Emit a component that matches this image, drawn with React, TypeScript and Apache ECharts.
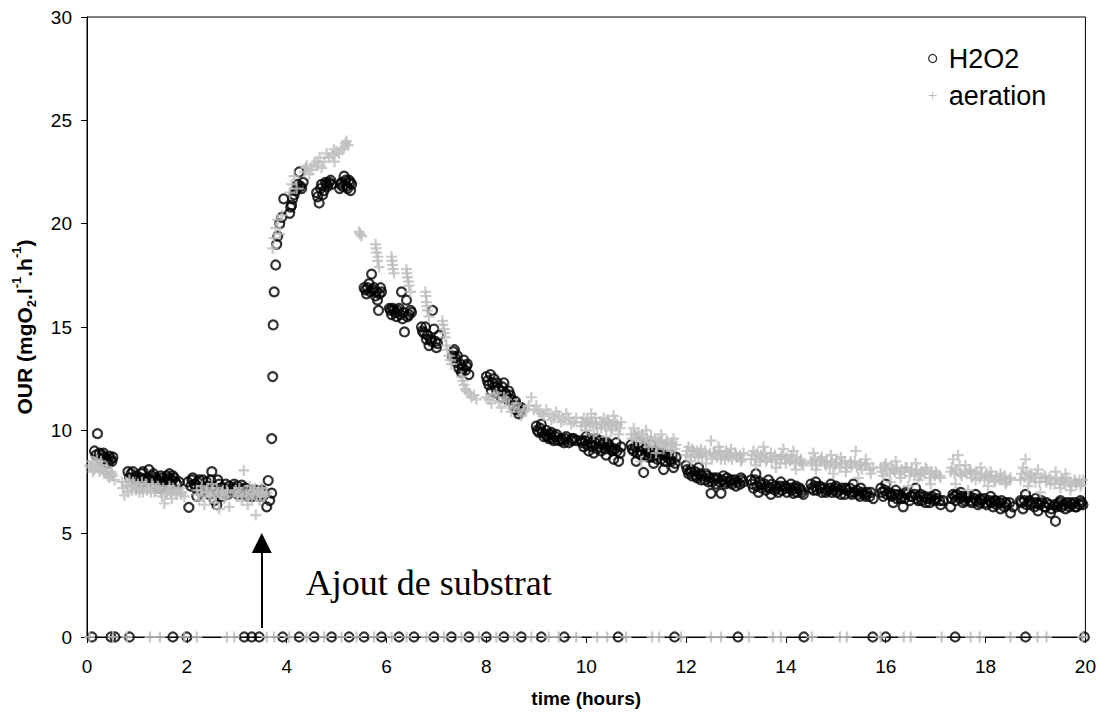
import React, { useEffect, useRef } from "react";
import * as echarts from "echarts";

const xTicks = { min: 0, max: 20, interval: 2 };
const yTicks = { min: 0, max: 30, interval: 5 };

const h2o2Points: number[][] = [
  [0.15, 9.0], [0.21, 9.84], [0.25, 8.9], [0.3, 8.8], [0.35, 8.7], [0.4, 8.6], [0.45, 8.75], [0.5, 8.5], [0.52, 8.7],
  [0.82, 8.0], [0.88, 7.9], [0.95, 7.7], [1.0, 7.8], [1.05, 7.5], [1.1, 7.9], [1.15, 7.6], [1.2, 7.7], [1.24, 8.1], [1.3, 7.8], [1.35, 7.4], [1.4, 7.6], [1.45, 7.2], [1.5, 7.7], [1.55, 7.5], [1.6, 7.8], [1.65, 7.9], [1.7, 7.6], [1.75, 7.7], [1.8, 7.4], [1.85, 7.5],
  [2.02, 7.5], [2.04, 6.27], [2.1, 7.6], [2.15, 7.4], [2.2, 6.8], [2.25, 7.6], [2.3, 7.3], [2.35, 7.1], [2.4, 7.5], [2.45, 6.9], [2.5, 8.0], [2.52, 7.3], [2.55, 6.6], [2.6, 6.4], [2.62, 7.6], [2.68, 7.2], [2.72, 7.0], [2.78, 7.4], [2.82, 6.9],
  [2.9, 7.2], [2.95, 7.4], [3.0, 7.3], [3.05, 7.1], [3.1, 7.35], [3.15, 6.9], [3.2, 7.0], [3.25, 6.8], [3.3, 7.1], [3.35, 6.9], [3.4, 7.0], [3.45, 6.8], [3.5, 7.1], [3.55, 6.9], [3.6, 6.3], [3.63, 7.57], [3.66, 6.6], [3.7, 6.96], [3.7, 9.6],
  [3.72, 12.6], [3.73, 15.1], [3.75, 16.7], [3.78, 18.0], [3.8, 19.0], [3.82, 19.4], [3.86, 20.0], [3.9, 20.3], [3.94, 21.2],
  [4.06, 20.5], [4.1, 20.9], [4.15, 21.4], [4.2, 21.7], [4.25, 22.5], [4.28, 21.8], [4.3, 21.7], [4.33, 22.0],
  [4.6, 21.5], [4.65, 21.0], [4.68, 21.7], [4.72, 21.4], [4.78, 22.0], [4.82, 21.8], [4.88, 22.1], [4.9, 21.9],
  [5.06, 21.7], [5.1, 22.0], [5.15, 22.3], [5.2, 21.8], [5.25, 22.1], [5.28, 21.6], [5.3, 21.9],
  [5.55, 16.9], [5.6, 16.6], [5.65, 17.1], [5.7, 17.56], [5.72, 16.8], [5.78, 16.5], [5.82, 16.3], [5.84, 15.8], [5.88, 16.9], [5.9, 16.7],
  [6.06, 15.9], [6.1, 15.6], [6.15, 15.8], [6.2, 15.5], [6.25, 15.9], [6.3, 16.7], [6.32, 15.4], [6.36, 14.76], [6.4, 16.3], [6.45, 15.6], [6.5, 15.7],
  [6.7, 15.0], [6.75, 14.7], [6.8, 14.4], [6.85, 14.1], [6.9, 14.3], [6.92, 15.8], [6.95, 14.9], [7.0, 14.0], [7.05, 14.6],
  [7.32, 13.6], [7.36, 13.9], [7.4, 13.3], [7.45, 13.0], [7.5, 12.8], [7.55, 13.4], [7.6, 13.1], [7.65, 12.7],
  [8.0, 12.6], [8.05, 12.2], [8.1, 11.9], [8.15, 12.5], [8.2, 11.8], [8.25, 12.0], [8.3, 11.6], [8.35, 12.3], [8.4, 11.7], [8.45, 11.9], [8.5, 11.5],
  [8.55, 11.2], [8.6, 11.0], [8.65, 10.8], [8.7, 11.1],
  [9.0, 10.2], [9.05, 9.9], [9.1, 10.3], [9.15, 9.7], [9.2, 10.0], [9.25, 9.6], [9.3, 9.9], [9.35, 9.5], [9.4, 9.8], [9.5, 9.6], [9.55, 9.4], [9.6, 9.7], [9.7, 9.5], [9.75, 9.6],
  [9.9, 9.5], [9.95, 9.2], [10.0, 9.7], [10.05, 9.0], [10.1, 9.4], [10.15, 8.9], [10.2, 9.6], [10.25, 9.2], [10.3, 9.0], [10.35, 9.4], [10.4, 8.8], [10.45, 9.3], [10.5, 9.1], [10.55, 8.6], [10.6, 9.4], [10.65, 8.5], [10.7, 9.2],
  [10.9, 9.3], [10.95, 9.0], [11.0, 8.5], [11.05, 9.4], [11.1, 8.8], [11.15, 7.96], [11.2, 9.1], [11.25, 8.7], [11.3, 9.3], [11.35, 8.4], [11.4, 8.9], [11.5, 8.6], [11.55, 8.1], [11.6, 8.8], [11.7, 8.5], [11.75, 8.2], [11.8, 8.7],
  [12.0, 8.3], [12.05, 7.9], [12.1, 8.1], [12.2, 7.8], [12.25, 8.2], [12.3, 7.6], [12.4, 7.9], [12.45, 7.5], [12.5, 6.95], [12.55, 7.7], [12.6, 7.4], [12.7, 6.95], [12.75, 7.8], [12.8, 7.5], [12.9, 7.6], [13.0, 7.3], [13.1, 7.7], [13.15, 7.5],
  [13.3, 7.6], [13.35, 7.2], [13.4, 7.9], [13.45, 7.0], [13.5, 7.4], [13.6, 7.1], [13.65, 7.6], [13.7, 6.9], [13.8, 7.3], [13.85, 7.0], [13.9, 7.5], [14.0, 7.2], [14.1, 7.4], [14.15, 6.95], [14.2, 7.3], [14.3, 7.1], [14.35, 6.9],
  [14.5, 7.4], [14.55, 7.1], [14.6, 7.5], [14.7, 7.2], [14.8, 7.0], [14.9, 7.4], [14.95, 7.1], [15.0, 7.3], [15.1, 6.9], [15.2, 7.2], [15.3, 7.0], [15.35, 7.4], [15.45, 6.9], [15.5, 7.2], [15.6, 6.8], [15.7, 7.0], [15.75, 6.7],
  [15.9, 7.2], [15.95, 6.8], [16.0, 7.4], [16.1, 6.9], [16.15, 6.5], [16.2, 7.1], [16.3, 6.7], [16.35, 6.3], [16.4, 7.0], [16.5, 6.8], [16.6, 7.2], [16.65, 6.6], [16.7, 6.9], [16.8, 6.5], [16.9, 6.7], [17.0, 6.9], [17.1, 6.4], [17.15, 6.6],
  [17.3, 6.3], [17.35, 6.9], [17.4, 6.6], [17.5, 7.0], [17.55, 6.5], [17.6, 6.8], [17.7, 6.6], [17.8, 6.9], [17.85, 6.4], [17.9, 6.7], [18.0, 6.5], [18.1, 6.8], [18.15, 6.3], [18.2, 6.6], [18.3, 6.2], [18.4, 6.5], [18.5, 6.0], [18.55, 6.3],
  [18.7, 6.6], [18.75, 6.2], [18.8, 6.9], [18.9, 6.4], [19.0, 6.7], [19.05, 6.1], [19.1, 6.5], [19.2, 6.3], [19.3, 6.0], [19.4, 5.6], [19.45, 6.4], [19.5, 6.6], [19.6, 6.2], [19.7, 6.5], [19.8, 6.3], [19.9, 6.6], [19.95, 6.4],
];

const h2o2PointsExtra: number[][] = [
  [0.18, 8.8], [0.28, 8.6], [0.33, 8.9], [0.42, 8.4], [0.48, 8.6],
  [0.85, 7.7], [0.92, 8.0], [0.98, 7.6], [1.08, 7.7], [1.12, 8.0], [1.18, 7.5], [1.28, 7.6], [1.33, 7.9], [1.38, 7.7], [1.42, 7.5], [1.48, 7.8], [1.52, 7.3], [1.58, 7.6], [1.62, 7.7], [1.68, 7.4], [1.72, 7.8], [1.78, 7.5],
  [2.08, 7.3], [2.12, 7.7], [2.18, 7.2], [2.22, 7.5], [2.28, 7.0], [2.32, 7.6], [2.38, 7.2], [2.42, 7.3], [2.48, 7.6], [2.58, 7.1], [2.65, 7.4], [2.7, 6.8], [2.75, 7.2], [2.8, 7.1], [2.85, 7.3],
  [2.92, 7.0], [2.98, 7.2], [3.02, 6.9], [3.08, 7.2], [3.12, 7.0], [3.18, 7.2], [3.22, 6.8], [3.28, 7.0], [3.32, 6.8], [3.38, 7.1], [3.42, 6.9], [3.48, 7.0], [3.52, 6.8],
  [4.08, 20.8], [4.12, 21.2], [4.18, 21.6], [4.22, 21.9], [4.62, 21.3], [4.7, 21.9], [4.75, 21.6], [4.8, 21.9], [4.85, 22.0], [5.08, 21.9], [5.12, 21.8], [5.18, 22.1], [5.22, 21.7], [5.27, 22.0],
  [5.58, 16.8], [5.62, 16.9], [5.68, 16.7], [5.75, 16.9], [5.8, 16.7], [5.86, 16.6],
  [6.08, 15.8], [6.12, 15.9], [6.18, 15.7], [6.22, 15.8], [6.28, 15.6], [6.34, 15.7], [6.42, 15.5], [6.48, 15.8],
  [6.72, 14.8], [6.78, 15.0], [6.82, 14.6], [6.88, 14.4], [6.98, 14.3], [7.02, 14.2],
  [7.34, 13.8], [7.38, 13.5], [7.42, 13.6], [7.48, 13.2], [7.52, 13.0], [7.58, 12.9], [7.62, 13.2],
  [8.02, 12.4], [8.08, 12.7], [8.12, 12.3], [8.18, 12.1], [8.22, 12.3], [8.28, 11.9], [8.32, 12.1], [8.38, 11.8], [8.42, 11.5], [8.48, 11.7],
  [8.58, 11.4], [8.62, 11.2], [8.68, 10.9],
  [9.02, 10.0], [9.08, 10.1], [9.12, 9.9], [9.18, 9.8], [9.22, 9.7], [9.28, 9.8], [9.32, 9.6], [9.38, 9.7], [9.45, 9.5], [9.52, 9.5], [9.58, 9.6], [9.65, 9.4], [9.72, 9.6], [9.8, 9.5],
  [9.92, 9.4], [9.98, 9.5], [10.02, 9.3], [10.08, 9.6], [10.12, 9.2], [10.18, 9.4], [10.22, 9.1], [10.28, 9.5], [10.32, 9.3], [10.38, 9.1], [10.42, 9.4], [10.48, 9.2], [10.52, 9.0], [10.58, 9.1], [10.62, 9.0], [10.68, 8.9],
  [10.92, 9.1], [10.98, 9.2], [11.02, 8.9], [11.08, 9.0], [11.12, 9.2], [11.18, 8.8], [11.22, 9.0], [11.28, 8.9], [11.32, 8.7], [11.38, 9.0], [11.42, 8.6], [11.48, 8.8], [11.52, 8.9], [11.58, 8.5], [11.62, 8.7], [11.68, 8.6], [11.72, 8.8], [11.78, 8.4],
  [12.02, 8.1], [12.08, 8.0], [12.12, 7.8], [12.18, 8.0], [12.22, 7.7], [12.28, 7.9], [12.32, 7.8], [12.38, 7.6], [12.42, 7.8], [12.48, 7.7], [12.52, 7.5], [12.58, 7.6], [12.62, 7.7], [12.68, 7.5], [12.72, 7.6], [12.78, 7.4], [12.82, 7.7], [12.88, 7.5], [12.92, 7.4], [12.98, 7.6], [13.02, 7.5], [13.08, 7.4], [13.12, 7.6],
  [13.32, 7.4], [13.38, 7.6], [13.42, 7.3], [13.48, 7.5], [13.52, 7.2], [13.58, 7.4], [13.62, 7.3], [13.68, 7.2], [13.72, 7.4], [13.78, 7.1], [13.82, 7.2], [13.88, 7.3], [13.92, 7.1], [13.98, 7.3], [14.02, 7.0], [14.08, 7.2], [14.12, 7.1], [14.18, 7.2], [14.22, 7.0], [14.28, 7.2], [14.32, 7.0],
  [14.52, 7.2], [14.58, 7.3], [14.62, 7.1], [14.68, 7.3], [14.72, 7.0], [14.78, 7.2], [14.82, 7.1], [14.88, 7.2], [14.92, 7.0], [14.98, 7.2], [15.02, 7.0], [15.08, 7.1], [15.12, 7.2], [15.18, 6.9], [15.22, 7.1], [15.28, 7.2], [15.32, 6.9], [15.38, 7.0], [15.42, 7.1], [15.48, 6.8], [15.52, 7.0], [15.58, 6.9], [15.62, 7.0], [15.68, 6.8],
  [15.92, 7.0], [15.98, 7.1], [16.02, 6.9], [16.08, 7.0], [16.12, 6.8], [16.18, 6.9], [16.22, 6.7], [16.28, 6.9], [16.32, 6.8], [16.38, 6.7], [16.42, 6.9], [16.48, 6.6], [16.52, 6.8], [16.58, 6.9], [16.62, 6.7], [16.68, 6.8], [16.72, 6.6], [16.78, 6.8], [16.82, 6.7], [16.88, 6.5], [16.92, 6.8], [16.98, 6.6], [17.02, 6.7], [17.08, 6.6],
  [17.32, 6.7], [17.38, 6.8], [17.42, 6.9], [17.48, 6.7], [17.52, 6.8], [17.58, 6.6], [17.62, 6.7], [17.68, 6.8], [17.72, 6.5], [17.78, 6.7], [17.82, 6.6], [17.88, 6.5], [17.92, 6.6], [17.98, 6.7], [18.02, 6.4], [18.08, 6.6], [18.12, 6.5], [18.18, 6.6], [18.22, 6.4], [18.28, 6.5], [18.32, 6.6], [18.38, 6.3], [18.42, 6.4], [18.48, 6.5],
  [18.72, 6.5], [18.78, 6.6], [18.82, 6.4], [18.88, 6.6], [18.92, 6.5], [18.98, 6.3], [19.02, 6.5], [19.08, 6.4], [19.12, 6.6], [19.18, 6.3], [19.22, 6.5], [19.28, 6.4], [19.32, 6.2], [19.38, 6.4], [19.42, 6.3], [19.48, 6.5], [19.52, 6.3], [19.58, 6.4], [19.62, 6.5], [19.68, 6.3], [19.72, 6.4], [19.78, 6.5], [19.82, 6.3], [19.88, 6.4], [19.92, 6.5],
];

const h2o2ZeroTimes: number[] = [
  0.1, 0.48, 0.56, 0.85, 1.72, 2.0, 3.15, 3.3, 3.45, 3.92, 4.25, 4.55, 4.9, 5.25, 5.55, 5.9, 6.25, 6.55, 6.95, 7.3, 7.65,
  8.0, 8.35, 8.7, 9.1, 9.56, 10.64, 11.77, 13.04, 14.36, 15.74, 16.0, 17.39, 18.8, 19.98,
];

const aerationPoints: number[][] = [
  [0.05, 8.3], [0.1, 8.5], [0.15, 8.1], [0.2, 8.6], [0.25, 8.0], [0.3, 8.3], [0.35, 7.9], [0.4, 8.2], [0.45, 7.7], [0.5, 7.9], [0.55, 7.6],
  [0.7, 7.5], [0.75, 6.85], [0.8, 7.3], [0.85, 7.6], [0.9, 7.1], [0.95, 7.4], [1.0, 7.2], [1.05, 7.0], [1.1, 7.5], [1.15, 7.3], [1.2, 7.1], [1.3, 7.4], [1.35, 7.0], [1.45, 7.2], [1.5, 6.8], [1.55, 6.46], [1.6, 7.0], [1.65, 7.3], [1.7, 6.7], [1.75, 7.1], [1.8, 6.9], [1.85, 7.2], [1.9, 7.0], [1.95, 6.8],
  [2.2, 7.1], [2.25, 6.6], [2.3, 7.3], [2.35, 6.4], [2.4, 7.0], [2.45, 6.8], [2.5, 7.4], [2.55, 6.5], [2.6, 7.2], [2.65, 6.2], [2.7, 7.0], [2.75, 6.7], [2.8, 7.1], [2.85, 6.3],
  [2.95, 7.0], [3.0, 6.8], [3.05, 7.2], [3.1, 6.6], [3.14, 8.06], [3.18, 6.9], [3.22, 6.4], [3.26, 7.3], [3.3, 6.7], [3.34, 7.1], [3.38, 5.9], [3.42, 7.0], [3.46, 6.6], [3.5, 7.2], [3.55, 6.8], [3.6, 7.0],
  [3.72, 18.8], [3.75, 19.3], [3.78, 19.8], [3.82, 20.2], [3.86, 19.5], [3.9, 20.4],
  [4.06, 21.5], [4.1, 21.9], [4.15, 22.3], [4.2, 21.7],
  [4.36, 22.5], [4.4, 22.8], [4.5, 22.6], [4.6, 23.0], [4.66, 23.2], [4.7, 22.7], [4.8, 23.4], [4.92, 23.3], [4.96, 23.0], [5.0, 23.5], [5.15, 23.7], [5.2, 24.0], [5.23, 23.8],
  [5.45, 19.6], [5.5, 19.4], [5.78, 19.0], [5.8, 18.6], [5.82, 18.2], [5.85, 17.9], [6.1, 18.4], [6.12, 18.0], [6.15, 17.6], [6.4, 17.8], [6.42, 17.4], [6.45, 17.0], [6.48, 16.7],
  [6.78, 16.7], [6.8, 16.2], [6.82, 15.8], [6.85, 15.5], [7.12, 15.3], [7.15, 14.9], [7.18, 14.5], [7.2, 14.1], [7.25, 13.6], [7.3, 13.2], [7.5, 12.6], [7.55, 12.2], [7.6, 11.9], [7.7, 11.6], [7.8, 11.5],
  [8.0, 11.6], [8.1, 11.3], [8.2, 11.8], [8.3, 11.1], [8.4, 11.5], [8.5, 10.9], [8.6, 11.3], [8.7, 10.7], [8.8, 11.0], [8.9, 11.6], [9.0, 11.2], [9.1, 10.8], [9.2, 11.0], [9.3, 10.5], [9.4, 10.9], [9.5, 10.4], [9.6, 10.8], [9.7, 10.3], [9.8, 10.6],
  [9.9, 10.2], [9.95, 10.6], [10.0, 10.0], [10.05, 10.4], [10.1, 10.8], [10.15, 9.8], [10.2, 10.3], [10.3, 10.1], [10.35, 10.6], [10.4, 9.7], [10.45, 10.4], [10.5, 10.0], [10.55, 10.7], [10.6, 10.2], [10.65, 9.8], [10.7, 10.4],
  [10.9, 9.8], [10.95, 10.1], [11.0, 9.5], [11.05, 9.9], [11.1, 8.5], [11.15, 9.6], [11.2, 10.0], [11.25, 9.2], [11.3, 9.7], [11.4, 8.9], [11.45, 9.5], [11.5, 9.8], [11.55, 9.1], [11.6, 9.4], [11.7, 9.0], [11.75, 9.6], [11.8, 9.3],
  [12.0, 8.8], [12.05, 9.2], [12.1, 8.5], [12.15, 9.0], [12.25, 8.7], [12.3, 9.1], [12.4, 8.4], [12.5, 9.5], [12.55, 8.9], [12.65, 9.2], [12.7, 8.6], [12.8, 9.0], [12.85, 8.7], [12.9, 9.1], [13.0, 8.8], [13.1, 8.5], [13.15, 8.9],
  [13.3, 8.6], [13.35, 9.0], [13.4, 8.3], [13.5, 8.8], [13.55, 9.2], [13.6, 8.5], [13.7, 8.9], [13.8, 8.2], [13.9, 8.7], [13.95, 9.1], [14.0, 8.4], [14.1, 8.8], [14.15, 9.0], [14.2, 8.1], [14.3, 8.6], [14.35, 8.3],
  [14.5, 8.5], [14.55, 8.9], [14.6, 8.1], [14.7, 8.6], [14.8, 8.3], [14.9, 8.8], [14.95, 7.9], [15.0, 8.4], [15.1, 8.7], [15.2, 8.0], [15.3, 8.5], [15.4, 9.0], [15.45, 7.7], [15.5, 8.3], [15.6, 8.6], [15.7, 7.9], [15.75, 8.2],
  [15.9, 8.2], [15.95, 7.8], [16.0, 8.4], [16.1, 7.5], [16.15, 8.1], [16.2, 8.5], [16.3, 7.7], [16.4, 8.2], [16.45, 7.3], [16.5, 8.0], [16.6, 8.4], [16.65, 7.6], [16.7, 7.9], [16.8, 8.2], [16.9, 7.4], [17.0, 8.0], [17.1, 7.7],
  [17.3, 8.0], [17.35, 8.6], [17.4, 7.4], [17.45, 8.8], [17.5, 7.9], [17.6, 8.3], [17.65, 7.1], [17.7, 8.0], [17.8, 7.6], [17.9, 8.2], [18.0, 7.8], [18.05, 7.3], [18.1, 8.0], [18.2, 7.6], [18.3, 7.9], [18.4, 7.4], [18.5, 7.7],
  [18.7, 7.6], [18.75, 8.2], [18.8, 8.6], [18.85, 7.3], [18.9, 7.9], [19.0, 7.5], [19.05, 8.1], [19.1, 7.0], [19.2, 7.7], [19.3, 7.4], [19.4, 8.0], [19.5, 7.2], [19.55, 7.6], [19.6, 7.9], [19.7, 7.1], [19.8, 7.5], [19.9, 7.3], [19.95, 7.6],
];

const aerationPointsExtra: number[][] = [
  [0.08, 8.2], [0.12, 8.0], [0.18, 8.4], [0.22, 8.2], [0.28, 8.5], [0.32, 8.1], [0.38, 8.0], [0.42, 7.8], [0.48, 8.0], [0.52, 7.8],
  [0.72, 7.2], [0.78, 7.5], [0.82, 7.0], [0.88, 7.3], [0.92, 7.5], [0.98, 7.1], [1.02, 7.4], [1.08, 7.2], [1.12, 7.0], [1.18, 7.4], [1.22, 7.2], [1.28, 7.0], [1.32, 7.3], [1.38, 7.1], [1.42, 7.3], [1.48, 7.0], [1.52, 7.2], [1.58, 6.9], [1.62, 7.1], [1.68, 7.0], [1.72, 7.2], [1.78, 7.0], [1.82, 7.1], [1.88, 6.9],
  [2.22, 6.9], [2.28, 7.1], [2.32, 6.8], [2.38, 7.0], [2.42, 7.2], [2.48, 6.9], [2.52, 7.1], [2.58, 6.8], [2.62, 7.0], [2.68, 6.9], [2.72, 7.1], [2.78, 6.8], [2.82, 7.0],
  [2.98, 7.1], [3.02, 6.9], [3.08, 7.0], [3.12, 6.8], [3.2, 7.1], [3.24, 6.8], [3.28, 7.0], [3.32, 6.9], [3.36, 7.2], [3.4, 6.8], [3.44, 7.1], [3.48, 6.9], [3.52, 7.0], [3.58, 6.9],
  [4.38, 22.7], [4.45, 22.4], [4.55, 22.9], [4.62, 22.8], [4.75, 23.0], [4.85, 23.2], [4.95, 23.6], [5.05, 23.4], [5.1, 23.6], [5.18, 23.9],
  [5.47, 19.5], [5.79, 18.8], [5.83, 18.4], [6.11, 18.2], [6.13, 17.8], [6.41, 17.6], [6.44, 17.2], [6.79, 16.5], [6.81, 16.0], [7.13, 15.1], [7.16, 14.7], [7.22, 13.9], [7.28, 13.4], [7.52, 12.4], [7.58, 12.0], [7.65, 11.8], [7.75, 11.7],
  [8.05, 11.5], [8.15, 11.7], [8.25, 11.4], [8.35, 11.6], [8.45, 11.2], [8.55, 11.1], [8.65, 11.0], [8.75, 10.9], [8.85, 11.2], [8.95, 11.0], [9.05, 10.9], [9.15, 10.7], [9.25, 10.8], [9.35, 10.6], [9.45, 10.7], [9.55, 10.5], [9.65, 10.6], [9.75, 10.4],
  [9.92, 10.4], [9.98, 10.3], [10.02, 10.5], [10.08, 10.2], [10.12, 10.4], [10.18, 10.6], [10.22, 10.1], [10.28, 10.4], [10.32, 10.3], [10.38, 10.2], [10.42, 10.5], [10.48, 10.3], [10.52, 10.1], [10.58, 10.4], [10.62, 10.3], [10.68, 10.1],
  [10.92, 9.6], [10.98, 9.8], [11.02, 9.7], [11.08, 9.5], [11.12, 9.8], [11.18, 9.4], [11.22, 9.6], [11.28, 9.5], [11.32, 9.3], [11.38, 9.6], [11.42, 9.2], [11.48, 9.4], [11.52, 9.5], [11.58, 9.3], [11.62, 9.5], [11.68, 9.2], [11.72, 9.4], [11.78, 9.1],
  [12.02, 9.0], [12.08, 8.7], [12.12, 9.1], [12.18, 8.8], [12.22, 9.0], [12.28, 8.9], [12.32, 8.7], [12.38, 9.0], [12.42, 8.8], [12.48, 8.9], [12.52, 8.6], [12.58, 8.9], [12.62, 8.7], [12.68, 9.0], [12.72, 8.8], [12.78, 8.6], [12.82, 8.9], [12.88, 8.8], [12.92, 8.6], [12.98, 8.9], [13.02, 8.7], [13.08, 8.8], [13.12, 8.6],
  [13.32, 8.8], [13.38, 8.6], [13.42, 8.9], [13.48, 8.5], [13.52, 8.7], [13.58, 8.9], [13.62, 8.6], [13.68, 8.7], [13.72, 8.5], [13.78, 8.8], [13.82, 8.6], [13.88, 8.4], [13.92, 8.8], [13.98, 8.6], [14.02, 8.7], [14.08, 8.5], [14.12, 8.6], [14.18, 8.4], [14.22, 8.7], [14.28, 8.5], [14.32, 8.4],
  [14.52, 8.4], [14.58, 8.6], [14.62, 8.3], [14.68, 8.5], [14.72, 8.7], [14.78, 8.4], [14.82, 8.5], [14.88, 8.2], [14.92, 8.5], [14.98, 8.3], [15.02, 8.6], [15.08, 8.2], [15.12, 8.4], [15.18, 8.5], [15.22, 8.2], [15.28, 8.4], [15.32, 8.3], [15.38, 8.5], [15.42, 8.2], [15.48, 8.4], [15.52, 8.1], [15.58, 8.3], [15.62, 8.4], [15.68, 8.1],
  [15.92, 8.0], [15.98, 8.3], [16.02, 8.1], [16.08, 7.9], [16.12, 8.2], [16.18, 8.0], [16.22, 8.2], [16.28, 7.9], [16.32, 8.1], [16.38, 8.0], [16.42, 8.2], [16.48, 7.8], [16.52, 8.1], [16.58, 7.9], [16.62, 8.1], [16.68, 7.8], [16.72, 8.0], [16.78, 7.9], [16.82, 8.1], [16.88, 7.7], [16.92, 8.0], [16.98, 7.8], [17.02, 7.9], [17.08, 7.8],
  [17.32, 8.2], [17.38, 7.9], [17.42, 8.1], [17.48, 8.3], [17.52, 7.8], [17.58, 8.0], [17.62, 7.9], [17.68, 8.1], [17.72, 7.7], [17.78, 7.9], [17.82, 8.0], [17.88, 7.7], [17.92, 7.9], [17.98, 7.6], [18.02, 7.9], [18.08, 7.7], [18.12, 7.8], [18.18, 7.5], [18.22, 7.8], [18.28, 7.6], [18.32, 7.7], [18.38, 7.8], [18.42, 7.5], [18.48, 7.6],
  [18.72, 7.9], [18.78, 7.7], [18.82, 8.0], [18.88, 7.6], [18.92, 7.8], [18.98, 7.7], [19.02, 7.9], [19.08, 7.5], [19.12, 7.7], [19.18, 7.8], [19.22, 7.5], [19.28, 7.7], [19.32, 7.6], [19.38, 7.4], [19.42, 7.7], [19.48, 7.5], [19.52, 7.6], [19.58, 7.4], [19.62, 7.7], [19.68, 7.5], [19.72, 7.3], [19.78, 7.6], [19.82, 7.4], [19.88, 7.6], [19.92, 7.4],
];

const aerationZeroTimes: number[] = [
  0.05, 0.52, 0.8, 1.26, 1.46, 1.95, 2.2, 2.8, 2.95, 3.6, 3.75, 4.05, 4.4, 4.75, 5.1, 5.4, 5.75, 6.1, 6.4, 6.8, 7.15, 7.5,
  7.85, 8.2, 8.55, 8.9, 9.25, 9.45, 9.8, 10.22, 10.42, 10.8, 11.32, 11.46, 11.9, 12.5, 12.7, 13.26, 13.74, 13.9, 14.52,
  15.08, 15.22, 15.9, 16.36, 16.5, 17.12, 17.7, 17.88, 18.5, 19.04, 19.22, 19.94,
];

const arrowFrom = [3.5, 0.43];
const arrowTo = [3.5, 4.55];
const annotationAt = [4.38, 2.62];
const annotationText = "Ajout de substrat";

const CROSS = "path://M4.4,0H6.6V4.4H11V6.6H6.6V11H4.4V6.6H0V4.4H4.4Z";
const CROSS_THIN = "path://M3.6,0H4.4V3.6H8V4.4H4.4V8H3.6V4.4H0V3.6H3.6Z";
const SANS = "'Liberation Sans', Arial, sans-serif";

export default function App() {
  const ref = useRef<HTMLDivElement>(null);
  useEffect(() => {
    if (!ref.current) return;
    const chart = echarts.init(ref.current, null, { renderer: "svg" });
    const h2o2Data = [...h2o2Points, ...h2o2PointsExtra, ...h2o2ZeroTimes.map((t) => [t, 0])];
    const aerData = [...aerationPoints, ...aerationPointsExtra, ...aerationZeroTimes.map((t) => [t, 0])];
    chart.setOption({
      animation: false,
      backgroundColor: "#ffffff",
      grid: { left: 87, right: 12, top: 17, bottom: 74, show: true, borderColor: "#000", borderWidth: 1 },
      legend: {
        orient: "vertical",
        left: 928,
        top: 45,
        padding: 0,
        itemWidth: 8,
        itemHeight: 8,
        itemGap: 10,
        textStyle: { fontFamily: SANS, fontSize: 27, color: "#000", padding: [0, 0, 0, 7] },
        data: [
          { name: "H2O2", icon: "circle", itemStyle: { color: "transparent", borderColor: "#000", borderWidth: 1.3 } },
          { name: "aeration", icon: CROSS_THIN, itemStyle: { color: "#aaaaaa", borderWidth: 0 } },
        ],
      },
      xAxis: {
        type: "value",
        min: xTicks.min,
        max: xTicks.max,
        interval: xTicks.interval,
        name: "time (hours)",
        nameLocation: "middle",
        nameGap: 52,
        nameTextStyle: { fontFamily: SANS, fontSize: 19, fontWeight: "bold", color: "#000" },
        axisLine: { onZero: false, lineStyle: { color: "#000", width: 1 } },
        axisTick: { show: true, inside: false, length: 6, lineStyle: { color: "#000" } },
        axisLabel: { fontFamily: SANS, fontSize: 19, color: "#000", margin: 20 },
        splitLine: { show: false },
      },
      yAxis: {
        type: "value",
        min: yTicks.min,
        max: yTicks.max,
        interval: yTicks.interval,
        name: "{b|OUR (mgO}{sub|2}{b|.l}{sup|-1}{b|.h}{sup|-1}{b|)}",
        nameLocation: "middle",
        nameGap: 49,
        nameRotate: 90,
        nameTextStyle: {
          color: "#000",
          rich: {
            b: { fontFamily: SANS, fontSize: 21, fontWeight: "bold", color: "#000", lineHeight: 28 },
            sub: { fontFamily: SANS, fontSize: 13, fontWeight: "bold", color: "#000", lineHeight: 28, verticalAlign: "bottom" },
            sup: { fontFamily: SANS, fontSize: 13, fontWeight: "bold", color: "#000", lineHeight: 28, verticalAlign: "top" },
          },
        },
        axisLine: { show: true, lineStyle: { color: "#000", width: 1 } },
        axisTick: { show: true, inside: false, length: 6, lineStyle: { color: "#000" } },
        axisLabel: { fontFamily: SANS, fontSize: 19, color: "#000", margin: 15 },
        splitLine: { show: false },
      },
      series: [
        {
          name: "H2O2",
          type: "scatter",
          data: h2o2Data,
          symbol: "circle",
          symbolSize: 9,
          itemStyle: { color: "transparent", borderColor: "#000", borderWidth: 2.2 },
          emphasis: { disabled: true },
          markLine: {
            silent: true,
            symbol: ["none", "triangle"],
            symbolSize: [20, 20],
            label: { show: false },
            lineStyle: { color: "#000", width: 2, type: "solid" },
            itemStyle: { color: "#000" },
            data: [[{ coord: arrowFrom }, { coord: arrowTo }]],
          },
        },
        {
          name: "aeration",
          type: "scatter",
          data: aerData,
          symbol: CROSS,
          symbolSize: 11,
          itemStyle: { color: "#bdbdbd" },
          emphasis: { disabled: true },
        },
      ],
    });
    const p = chart.convertToPixel({ gridIndex: 0 }, annotationAt) as number[];
    chart.setOption({
      graphic: [
        {
          type: "text",
          x: p[0],
          y: p[1],
          silent: true,
          style: {
            text: annotationText,
            fill: "#000",
            font: "36px 'Liberation Serif', 'Times New Roman', serif",
            verticalAlign: "middle",
            align: "left",
          },
        },
      ],
    });
    return () => chart.dispose();
  }, []);
  return <div ref={ref} style={{ position: "fixed", left: 0, top: 0, width: 1099, height: 713 }} />;
}
